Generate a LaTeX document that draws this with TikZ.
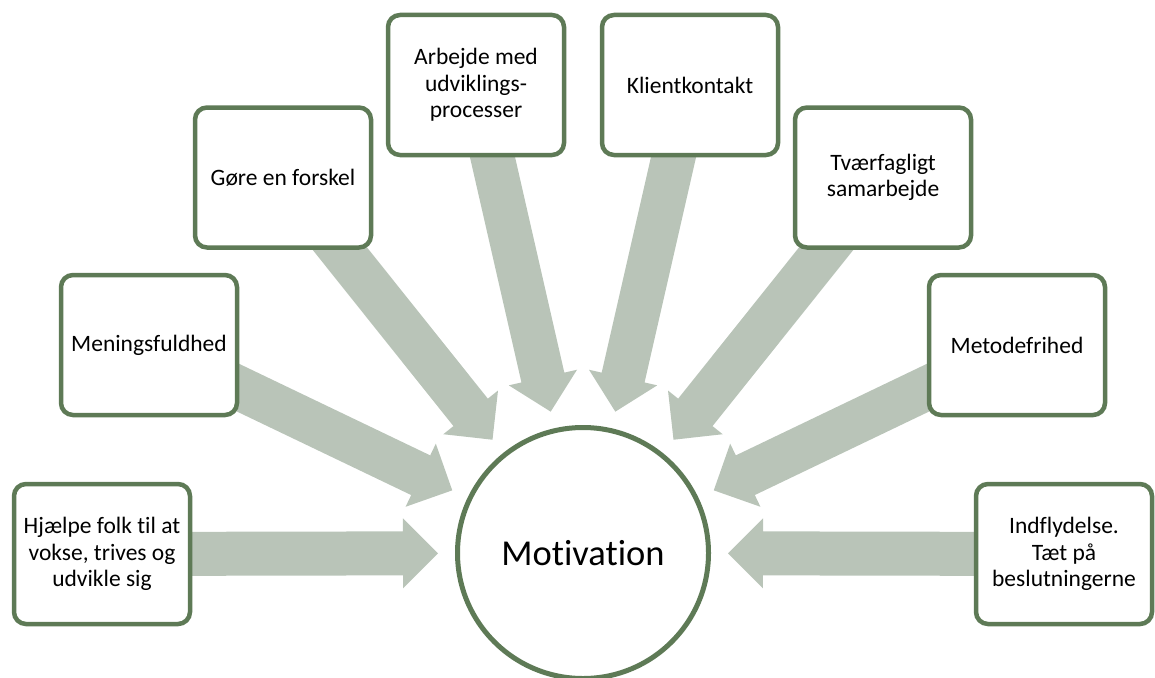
\documentclass[tikz,border=0pt]{standalone}
\usepackage{fontspec}
\setmainfont{Carlito}[Ligatures={NoCommon}]
\usetikzlibrary{calc,backgrounds}
\definecolor{boxgreen}{RGB}{94,122,86}
\definecolor{arrowgray}{RGB}{185,196,184}
\tikzset{
  idea/.style={draw=boxgreen, line width=4.5pt, fill=white, rounded corners=12pt,
    minimum width=176pt, minimum height=140pt, align=center, inner sep=2pt,
    font=\fontsize{23.5}{26.5}\selectfont},
  hub/.style={draw=boxgreen, line width=5pt, fill=white, circle, minimum size=251pt,
    inner sep=0pt, font=\fontsize{36.5}{40}\selectfont},
  arrowfill/.style={fill=arrowgray}
}
\newcommand\bigarrow[1]{%
  \fill[arrowfill] let \p1=(#1.center), \p2=(mot.center),
    \n1={atan2(\y2-\y1,\x2-\x1)} in
    ($(\p1)+(\n1+90:22pt)$) --
    ($(\p2)+(\n1:-180pt)+(\n1+90:22pt)$) --
    ($(\p2)+(\n1:-180pt)+(\n1+90:35pt)$) --
    ($(\p2)+(\n1:-145pt)$) --
    ($(\p2)+(\n1:-180pt)+(\n1-90:35pt)$) --
    ($(\p2)+(\n1:-180pt)+(\n1-90:22pt)$) --
    ($(\p1)+(\n1-90:22pt)$) -- cycle;}
\begin{document}
\begin{tikzpicture}[x=1pt,y=-1pt]
\useasboundingbox (0,0) rectangle (1155,677);
\node[hub] (mot) at (583,553) {Motivation};
\node[idea] (b1) at (102,554) {Hjælpe folk til at\\vokse, trives og\\udvikle sig};
\node[idea] (b2) at (149,345) {Meningsfuldhed};
\node[idea] (b3) at (283,177.5) {Gøre en forskel};
\node[idea] (b4) at (476,85) {Arbejde med\\udviklings-\\processer};
\node[idea] (b5) at (690,85) {Klientkontakt};
\node[idea] (b6) at (883,177.5) {Tværfagligt\\samarbejde};
\node[idea] (b7) at (1017,345) {Metodefrihed};
\node[idea] (b8) at (1064,554) {Indflydelse.\\Tæt på\\beslutningerne};
\begin{pgfonlayer}{background}
\foreach \b in {b1,b2,b3,b4,b5,b6,b7,b8} {\bigarrow{\b}}
\end{pgfonlayer}
\end{tikzpicture}
\end{document}
